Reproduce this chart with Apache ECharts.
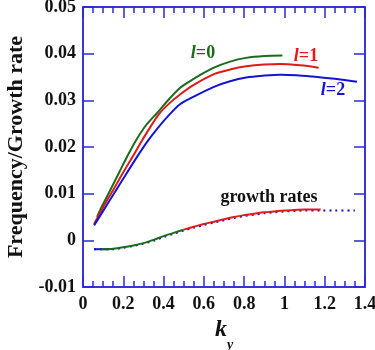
<!DOCTYPE html>
<html>
<head>
<meta charset="utf-8">
<script src="https://cdn.jsdelivr.net/npm/echarts@6/dist/echarts.min.js"></script>
<style>
  html, body { margin: 0; padding: 0; background: #fff; }
  #chart { width: 375px; height: 350px; }
</style>
</head>
<body>
<div id="chart"></div>
<script>
// frequency curves, [k_y, value]
var freqL0 = [[0.07, 0.0050], [0.084, 0.0064], [0.13, 0.0103], [0.18, 0.0146], [0.22, 0.0180], [0.26, 0.0212],
  [0.31, 0.0245], [0.37, 0.0274], [0.43, 0.0304], [0.48, 0.0326], [0.52, 0.0338], [0.58, 0.0354],
  [0.65, 0.0370], [0.73, 0.0383], [0.81, 0.0391], [0.90, 0.0395], [0.99, 0.0396]];
var freqL1 = [[0.055, 0.0035], [0.10, 0.0071], [0.15, 0.0108], [0.20, 0.0146], [0.25, 0.0182], [0.29, 0.0212],
  [0.33, 0.0240], [0.38, 0.0272], [0.43, 0.0294], [0.48, 0.0312], [0.55, 0.0333], [0.65, 0.0356],
  [0.73, 0.0366], [0.81, 0.0373], [0.90, 0.0377], [0.98, 0.0378], [1.08, 0.0375], [1.17, 0.0370]];
var freqL2 = [[0.055, 0.0032], [0.11, 0.0070], [0.165, 0.0108], [0.22, 0.0146], [0.27, 0.0180], [0.32, 0.0212],
  [0.37, 0.0240], [0.42, 0.0265], [0.48, 0.0291], [0.55, 0.0308], [0.65, 0.0329], [0.73, 0.0341],
  [0.81, 0.0349], [0.90, 0.0353], [0.98, 0.0355], [1.06, 0.0354], [1.14, 0.0351], [1.25, 0.0346], [1.36, 0.0340]];

// growth rates
var growthL0 = [[0.09, -0.0019], [0.15, -0.0018], [0.20, -0.0015], [0.25, -0.0011], [0.30, -0.0006],
  [0.35, 0.0001], [0.40, 0.0009], [0.45, 0.0016], [0.50, 0.0023]];
var growthL1 = [[0.50, 0.0023], [0.55, 0.0029], [0.60, 0.0035], [0.65, 0.0040], [0.70, 0.0045], [0.75, 0.0050],
  [0.80, 0.0054], [0.85, 0.0057], [0.90, 0.0060], [0.95, 0.0062], [1.00, 0.0064], [1.05, 0.0065],
  [1.10, 0.0066], [1.18, 0.0066]];
var growthL2 = [[0.055, -0.0019], [0.15, -0.0019], [0.20, -0.0016], [0.25, -0.0012], [0.30, -0.0007],
  [0.35, -0.0001], [0.40, 0.0007], [0.45, 0.0014], [0.50, 0.0021], [0.55, 0.0027], [0.60, 0.0033],
  [0.65, 0.0038], [0.70, 0.0043], [0.75, 0.0048], [0.80, 0.0052], [0.85, 0.0055], [0.90, 0.0058],
  [0.95, 0.0060], [1.00, 0.0062], [1.05, 0.0063], [1.10, 0.0064], [1.18, 0.0064], [1.25, 0.0064], [1.35, 0.0064]];
var growthL2Solid = [[0.055, -0.0019], [0.13, -0.0019]];

var green = '#1b6b1b', red = '#e01a1a', blue = '#1414d2', axisBlue = '#2a2ad8';
var font = 'Liberation Serif';

// fresh objects for every axis
function tickStyle() { return { show: true, inside: true, length: 11, lineStyle: { color: axisBlue, width: 1.5 } }; }
function minorStyle() { return { show: true, splitNumber: 4, length: 6, lineStyle: { color: axisBlue, width: 1.5 } }; }
function lineAxis() { return { show: true, onZero: false, lineStyle: { color: axisBlue, width: 1.5 } }; }

function line(data, color, dotted) {
  return {
    type: 'line', data: data, showSymbol: false, smooth: 0.3, z: dotted ? 1 : 2,
    lineStyle: { color: color, width: 2, type: dotted ? [2, 4] : 'solid' },
    xAxisIndex: 0, yAxisIndex: 0
  };
}

function label(text, color) {
  return {
    text: '{i|l}=' + text, fill: color, font: 'bold 18px ' + font, align: 'center', verticalAlign: 'middle',
    rich: { i: { fontFamily: font, fontStyle: 'italic', fontWeight: 'bold', fontSize: 18, fill: color } }
  };
}

var chart = echarts.init(document.getElementById('chart'));
chart.setOption({
  animation: false,
  grid: {
    left: 83, right: 10, top: 7, bottom: 63, outerBoundsMode: 'none',
    show: true, borderColor: axisBlue, borderWidth: 1.5, backgroundColor: 'transparent'
  },
  xAxis: [{
    type: 'value', min: 0, max: 1.4, interval: 0.2,
    axisLine: lineAxis(), axisTick: tickStyle(), minorTick: minorStyle(), splitLine: { show: false },
    axisLabel: { fontFamily: font, fontWeight: 'bold', fontSize: 18, color: '#111', margin: 8 },
    name: '{k|k}{s|y}', nameLocation: 'middle', nameGap: 22,
    nameTextStyle: {
      rich: {
        k: { fontFamily: font, fontWeight: 'bold', fontStyle: 'italic', fontSize: 24, color: '#111', verticalAlign: 'top', lineHeight: 24 },
        s: { fontFamily: font, fontWeight: 'bold', fontStyle: 'italic', fontSize: 14, color: '#111', verticalAlign: 'bottom', lineHeight: 34 }
      }
    }
  }, {
    type: 'value', min: 0, max: 1.4, interval: 0.2, position: 'top',
    axisLine: lineAxis(), axisTick: tickStyle(), minorTick: minorStyle(), splitLine: { show: false },
    axisLabel: { show: false }
  }],
  yAxis: [{
    type: 'value', min: -0.01, max: 0.05, interval: 0.01,
    axisLine: lineAxis(), axisTick: tickStyle(), splitLine: { show: false },
    axisLabel: { fontFamily: font, fontWeight: 'bold', fontSize: 18, color: '#111', margin: 7, padding: [0, 0, 8, 0] },
    name: 'Frequency/Growth rate', nameLocation: 'middle', nameGap: 45,
    nameTextStyle: { fontFamily: font, fontWeight: 'bold', fontSize: 22, color: '#111' }
  }, {
    type: 'value', min: -0.01, max: 0.05, interval: 0.01, position: 'right',
    axisLine: lineAxis(), axisTick: tickStyle(), splitLine: { show: false },
    axisLabel: { show: false }
  }],
  series: [
    line(freqL0, green), line(freqL1, red), line(freqL2, blue),
    line(growthL2, blue, true), line(growthL2Solid, blue),
    line(growthL0, green), line(growthL1, red)
  ],
  graphic: [
    { type: 'text', x: 203, y: 53, style: label('0', green) },
    { type: 'text', x: 306, y: 56, style: label('1', red) },
    { type: 'text', x: 333, y: 90, style: label('2', blue) },
    { type: 'text', x: 269, y: 197, style: { text: 'growth rates', fill: '#111', font: 'bold 18px ' + font, align: 'center', verticalAlign: 'middle' } }
  ]
});
</script>
</body>
</html>
